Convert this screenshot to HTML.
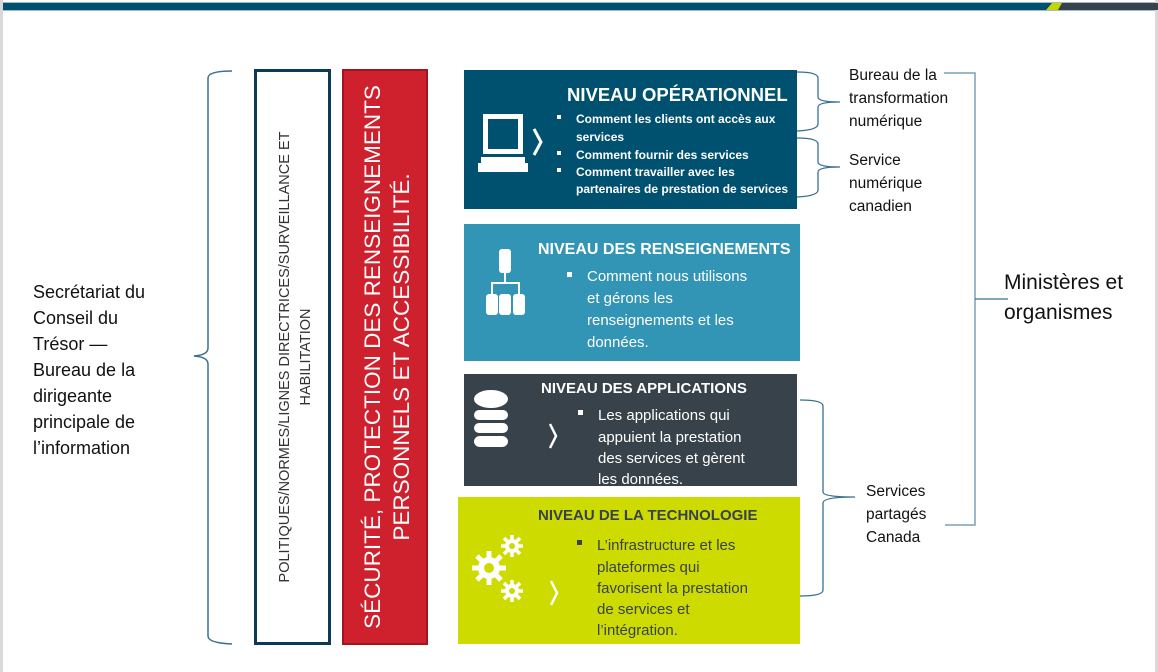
<!DOCTYPE html>
<html><head><meta charset="utf-8"><style>
html,body{margin:0;padding:0;background:#fff;}
svg{display:block;font-family:"Liberation Sans",sans-serif;}
</style></head><body>
<svg width="1158" height="672" viewBox="0 0 1158 672" xmlns="http://www.w3.org/2000/svg">
<rect x="0" y="0" width="1158" height="672" fill="#fff"/>
<rect x="0" y="0" width="3" height="672" fill="#d9d9d9"/>
<rect x="1155" y="0" width="3" height="672" fill="#d9d9d9"/>
<rect x="3" y="2" width="1152" height="9" fill="#9fbccb"/>
<rect x="3" y="3" width="1152" height="7" fill="#00506f"/>
<polygon points="1062,3 1158,3 1158,10 1058,10" fill="#37424a"/>
<polygon points="1052,3 1062,3 1058,10 1046,10" fill="#c8d400"/>

<path d="M232,71 Q208,71 208,78 L208,348 Q208,355 194,356 Q208,357 208,364 L208,636 Q208,643 232,644" fill="none" stroke="#3a7090" stroke-width="1.5"/>
<g font-size="18" fill="#111">
<text x="33" y="298">Secrétariat du</text>
<text x="33" y="324">Conseil du</text>
<text x="33" y="350">Trésor —</text>
<text x="33" y="376">Bureau de la</text>
<text x="33" y="402">dirigeante</text>
<text x="33" y="428">principale de</text>
<text x="33" y="454">l’information</text>
</g>

<rect x="255.5" y="70.5" width="74" height="573" fill="#fff" stroke="#0d3a55" stroke-width="3"/>
<g transform="translate(292,357) rotate(-90)" font-size="14.5" fill="#333" text-anchor="middle">
<text x="0" y="-3">POLITIQUES/NORMES/LIGNES DIRECTRICES/SURVEILLANCE ET</text>
<text x="0" y="18">HABILITATION</text>
</g>
<rect x="343" y="70" width="84" height="574" fill="#cf202e" stroke="#a01520" stroke-width="2"/>
<g transform="translate(385,357) rotate(-90)" font-size="22.5" fill="#fff" text-anchor="middle">
<text x="0" y="-5">SÉCURITÉ, PROTECTION DES RENSEIGNEMENTS</text>
<text x="0" y="24">PERSONNELS ET ACCESSIBILITÉ.</text>
</g>

<rect x="464" y="70" width="333" height="139" fill="#00506f"/>
<text x="567" y="101" font-size="18.5" font-weight="bold" fill="#fff">NIVEAU OPÉRATIONNEL</text>
<g font-size="12" font-weight="bold" fill="#fff">
<rect x="557" y="115" width="4" height="4"/><text x="576" y="123">Comment les clients ont accès aux</text>
<text x="576" y="141">services</text>
<rect x="557" y="151" width="4" height="4"/><text x="576" y="159">Comment fournir des services</text>
<rect x="557" y="168" width="4" height="4"/><text x="576" y="176">Comment travailler avec les</text>
<text x="576" y="193">partenaires de prestation de services</text>
</g>
<g fill="#fff">
<rect x="483" y="114" width="40" height="40"/><rect x="488" y="119" width="30" height="30" fill="#00506f"/>
<rect x="481" y="157" width="44" height="6"/><rect x="478" y="163" width="50" height="9"/>
</g>
<path d="M534,129 L541,142 L534,155" fill="none" stroke="#fff" stroke-width="3"/>

<rect x="464" y="224" width="336" height="137" fill="#3295b5"/>
<text x="538" y="254" font-size="16" font-weight="bold" fill="#fff">NIVEAU DES RENSEIGNEMENTS</text>
<g font-size="15" fill="#fff">
<rect x="567" y="272" width="5" height="5"/><text x="587" y="281">Comment nous utilisons</text>
<text x="587" y="303">et gérons les</text>
<text x="587" y="325">renseignements et les</text>
<text x="587" y="347">données.</text>
</g>
<g fill="#fff">
<rect x="499" y="249" width="12" height="24" rx="3"/>
<rect x="504" y="273" width="2" height="10"/><rect x="491" y="282" width="29" height="2"/>
<rect x="491" y="282" width="2" height="12"/><rect x="518" y="282" width="2" height="12"/>
<rect x="486" y="294" width="12" height="21" rx="3"/><rect x="499" y="294" width="12" height="21" rx="3"/><rect x="513" y="294" width="12" height="21" rx="3"/>
</g>

<rect x="464" y="374" width="333" height="112" fill="#37424a"/>
<text x="541" y="393" font-size="15" font-weight="bold" fill="#fff">NIVEAU DES APPLICATIONS</text>
<g font-size="15" fill="#fff">
<rect x="578" y="410" width="5" height="5"/><text x="598" y="420">Les applications qui</text>
<text x="598" y="442">appuient la prestation</text>
<text x="598" y="463">des services et gèrent</text>
<text x="598" y="484">les données.</text>
</g>
<g fill="#fff">
<ellipse cx="491" cy="399" rx="17" ry="9"/>
<rect x="474" y="410" width="34" height="10" rx="5"/>
<rect x="474" y="423" width="34" height="10" rx="5"/>
<rect x="474" y="436" width="34" height="11" rx="6"/>
</g>
<path d="M550,424 L556,436 L550,448" fill="none" stroke="#fff" stroke-width="2.5"/>

<rect x="458" y="497" width="342" height="147" fill="#cedb00"/>
<text x="538" y="520" font-size="15" font-weight="bold" fill="#37424a">NIVEAU DE LA TECHNOLOGIE</text>
<g font-size="15" fill="#37424a">
<rect x="577" y="540" width="5" height="5"/><text x="597" y="550">L’infrastructure et les</text>
<text x="597" y="572">plateformes qui</text>
<text x="597" y="593">favorisent la prestation</text>
<text x="597" y="614">de services et</text>
<text x="597" y="635">l’intégration.</text>
</g>
<g fill="#fff">
<circle cx="489" cy="568" r="11"/>
<g stroke="#fff" stroke-width="5"><line x1="489" y1="551" x2="489" y2="585"/><line x1="472" y1="568" x2="506" y2="568"/><line x1="477" y1="556" x2="501" y2="580"/><line x1="501" y1="556" x2="477" y2="580"/></g>
<circle cx="489" cy="568" r="5" fill="#cedb00"/>
<circle cx="512" cy="546" r="7"/>
<g stroke="#fff" stroke-width="3.5"><line x1="512" y1="535" x2="512" y2="557"/><line x1="501" y1="546" x2="523" y2="546"/><line x1="504" y1="538" x2="520" y2="554"/><line x1="520" y1="538" x2="504" y2="554"/></g>
<circle cx="512" cy="546" r="3" fill="#cedb00"/>
<circle cx="512" cy="591" r="7"/>
<g stroke="#fff" stroke-width="3.5"><line x1="512" y1="580" x2="512" y2="602"/><line x1="501" y1="591" x2="523" y2="591"/><line x1="504" y1="583" x2="520" y2="599"/><line x1="520" y1="583" x2="504" y2="599"/></g>
<circle cx="512" cy="591" r="3" fill="#cedb00"/>
</g>
<path d="M551,581 L557,593 L551,605" fill="none" stroke="#fff" stroke-width="2.5"/>

<g fill="none" stroke="#3a7090" stroke-width="1.3">
<path d="M797,72 Q818,72 818,78 L818,97 Q818,102 840,102 Q818,102 818,107 L818,124 Q818,130 797,131"/>
<path d="M797,138 Q818,138 818,144 L818,162 Q818,167 840,167 Q818,167 818,172 L818,190 Q818,196 797,197"/>
<path d="M800,400 Q823,400 823,406 L823,492 Q823,497 855,497 Q823,497 823,503 L823,590 Q823,596 800,596"/>
</g>
<g fill="none" stroke="#7aa0b8" stroke-width="1.5">
<path d="M944,73 L975,73 L975,525 L945,525"/>
</g>
<line x1="975" y1="299" x2="1008" y2="299" stroke="#3a7090" stroke-width="1.3"/>

<g font-size="15.5" fill="#111">
<text x="849" y="80">Bureau de la</text>
<text x="849" y="103">transformation</text>
<text x="849" y="126">numérique</text>
<text x="849" y="165">Service</text>
<text x="849" y="188">numérique</text>
<text x="849" y="211">canadien</text>
<text x="866" y="496">Services</text>
<text x="866" y="519">partagés</text>
<text x="866" y="542">Canada</text>
</g>
<g font-size="21" fill="#111">
<text x="1004" y="289">Ministères et</text>
<text x="1004" y="319">organismes</text>
</g>
</svg>
</body></html>
